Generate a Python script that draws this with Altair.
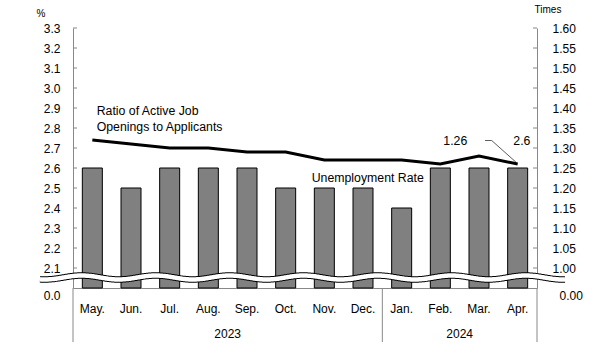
import altair as alt
import pandas as pd
import numpy as np

# ---------------- data ----------------
months = ["May.", "Jun.", "Jul.", "Aug.", "Sep.", "Oct.", "Nov.", "Dec.",
          "Jan.", "Feb.", "Mar.", "Apr."]
unemployment = [2.6, 2.5, 2.6, 2.6, 2.6, 2.5, 2.5, 2.5, 2.4, 2.6, 2.6, 2.6]
ratio = [1.32, 1.31, 1.30, 1.30, 1.29, 1.29, 1.27, 1.27, 1.27, 1.26, 1.28, 1.26]

left_ticks = [2.1, 2.2, 2.3, 2.4, 2.5, 2.6, 2.7, 2.8, 2.9, 3.0, 3.1, 3.2, 3.3]
left_axis_values = [2.0] + left_ticks            # 2.0 shown as "0.0" (axis break)
right_ticks = [1.00, 1.05, 1.10, 1.15, 1.20, 1.25, 1.30, 1.35, 1.40, 1.45,
               1.50, 1.55, 1.60]
right_axis_values = [0.95] + right_ticks          # 0.95 shown as "0.00" (axis break)

year_names = ["2023", "2024"]
year_anchor = ["Aug.", "Feb."]   # band whose right edge is the year's centre
sep_left = ["May.", "Jan."]
sep_right = ["Apr."]

FONT = "Liberation Sans"
GRAY = "#888888"
W, H = 464, 260

df = pd.DataFrame({"month": months, "unemp": unemployment, "ratio": ratio})

xscale = alt.Scale(domain=months, paddingInner=0, paddingOuter=0)
xaxis = alt.Axis(orient="bottom", title=None, ticks=False, tickSize=0,
                 domainColor=GRAY, labelAngle=0, labelFont=FONT, labelFontSize=12,
                 labelColor="black", labelBaseline="alphabetic", labelPadding=24,
                 grid=False)


def X(**kw):
    return alt.X("month:N", sort=months, scale=xscale, axis=xaxis, **kw)


lscale = alt.Scale(domain=[2.0, 3.3], nice=False, zero=False)
rscale = alt.Scale(domain=[0.95, 1.60], nice=False, zero=False)

laxis = alt.Axis(orient="left", values=left_axis_values, title=None, ticks=False,
                 tickSize=0, domainColor=GRAY, grid=False, labelFont=FONT,
                 labelFontSize=12, labelColor="black", labelPadding=13,
                 labelOverlap=False, labelFlush=False,
                 labelExpr="datum.value < 2.05 ? '0.0' : format(datum.value, '.1f')",
                 labelOffset={"condition": {"test": "datum.value < 2.05", "value": 7},
                              "value": 0})
raxis = alt.Axis(orient="right", values=right_axis_values, title=None, ticks=False,
                 tickSize=0, domainColor=GRAY, grid=False, labelFont=FONT,
                 labelFontSize=12, labelColor="black",
                 labelOverlap=False, labelFlush=False,
                 labelExpr="datum.value < 0.975 ? '0.00' : format(datum.value, '.2f')",
                 labelPadding={"condition": {"test": "datum.value < 0.975", "value": 22},
                               "value": 15},
                 labelOffset={"condition": {"test": "datum.value < 0.975", "value": 7},
                              "value": 0})

# ---------------- left (unemployment) group ----------------
bars = alt.Chart(df).mark_bar(width=20, fill="#808080", stroke="black",
                              strokeWidth=1).encode(
    x=X(),
    y=alt.Y("unemp:Q", scale=lscale, axis=laxis),
    y2=alt.datum(2.0),
)

lt = alt.Chart(pd.DataFrame({"v": left_ticks})).mark_rule(color=GRAY).encode(
    y=alt.Y("v:Q", scale=lscale, axis=laxis),
    x=alt.value(0), x2=alt.value(4),
)

sep1 = alt.Chart(pd.DataFrame({"month": sep_left})).mark_rule(color=GRAY).encode(
    x=X(bandPosition=0), y=alt.value(H), y2=alt.value(H + 54))
sep2 = alt.Chart(pd.DataFrame({"month": sep_right})).mark_rule(color=GRAY).encode(
    x=X(bandPosition=1), y=alt.value(H), y2=alt.value(H + 54))

years = alt.Chart(pd.DataFrame({"month": year_anchor, "year": year_names})).mark_text(
    font=FONT, fontSize=12, color="black", baseline="alphabetic", align="center"
).encode(x=X(bandPosition=1), y=alt.value(310), text="year:N")

left_group = alt.layer(bars, lt, sep1, sep2, years)

# ---------------- right (ratio) group ----------------
line = alt.Chart(df).mark_line(color="black", strokeWidth=3).encode(
    x=X(),
    y=alt.Y("ratio:Q", scale=rscale, axis=raxis),
)
rt = alt.Chart(pd.DataFrame({"v": right_ticks})).mark_rule(color=GRAY).encode(
    y=alt.Y("v:Q", scale=rscale, axis=raxis),
    x=alt.value(W - 4), x2=alt.value(W),
)

one = pd.DataFrame({"a": [0]})


def label(txt, x, y, size=12.3, align="left"):
    return alt.Chart(one).mark_text(
        text=txt, font=FONT, fontSize=size, color="black",
        baseline="alphabetic", align=align
    ).encode(x=alt.value(x), y=alt.value(y))


ann = [
    label("Ratio of Active Job", 23.7, 87),
    label("Openings to Applicants", 23.7, 103),
    label("Unemployment  Rate", 238.7, 154.3),
    label(f"{ratio[-1]:.2f}", 370.3, 117),
    label(f"{unemployment[-1]:.1f}", 440.3, 117),
    label("%", -32, -11, size=10, align="center"),
    label("Times", 475, -15.5, size=10, align="center"),
]
lead1 = alt.Chart(one).mark_rule(color="#333333", strokeWidth=0.8).encode(
    x=alt.value(412), x2=alt.value(418.7), y=alt.value(112.5))
lead2 = alt.Chart(one).mark_rule(color="#333333", strokeWidth=0.8).encode(
    x=alt.value(418.7), x2=alt.value(445), y=alt.value(112.5), y2=alt.value(136))

right_group = alt.layer(line, rt, lead1, lead2, *ann)

months_group = alt.layer(left_group, right_group).resolve_scale(y="independent")

# ---------------- axis-break wave (decoration) ----------------
wx = np.arange(-33, 493, 1.0)
period = 74.0
wy = 2.0525 + 0.01 * np.cos(2 * np.pi * (wx - 8.7) / period)
wave_df = pd.DataFrame({"wx": wx, "wy": wy})
wbase = alt.Chart(wave_df).encode(
    x=alt.X("wx:Q", scale=alt.Scale(domain=[0, W], nice=False, zero=False), axis=None),
    y=alt.Y("wy:Q", scale=lscale, axis=None),
    order="wx:Q",
)
wave = alt.layer(
    wbase.mark_line(color="black", strokeWidth=6.5),
    wbase.mark_line(color="white", strokeWidth=4.5),
)

chart = alt.layer(months_group, wave).resolve_scale(
    x="independent", y="independent"
).properties(
    width=W, height=H, autosize="none",
    padding={"left": 73, "top": 28, "right": 605 - 73 - W, "bottom": 350 - 28 - H},
).configure_view(stroke=None)

chart.save("out.html", embed_options={"renderer": "svg", "actions": False})
